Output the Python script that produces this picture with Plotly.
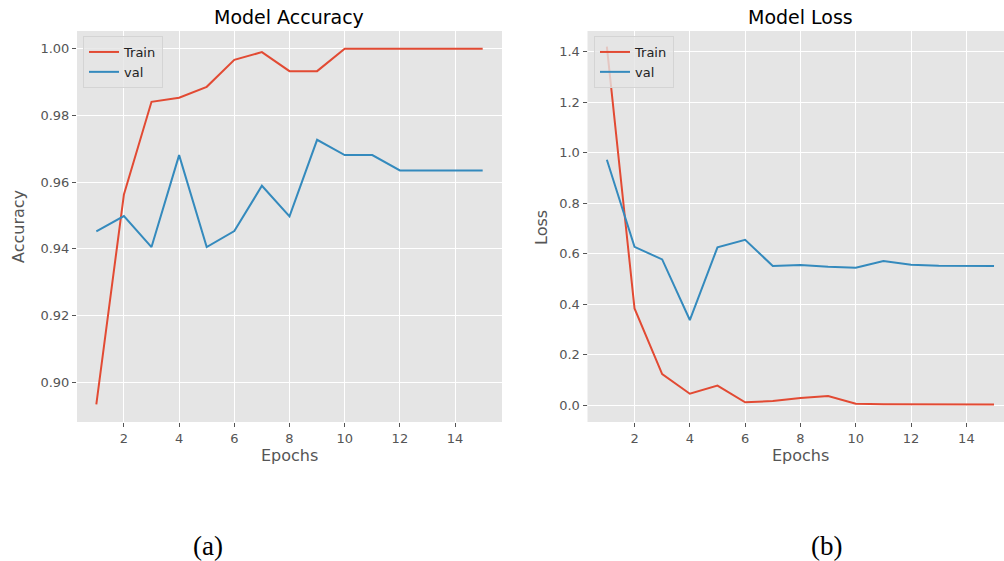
import plotly.graph_objects as go

epochs = list(range(1, 16))
acc_train = [0.8933, 0.9563, 0.9841, 0.9853, 0.9886, 0.9967, 0.9990, 0.9933, 0.9933,
             1.0, 1.0, 1.0, 1.0, 1.0, 1.0]
acc_val = [0.9452, 0.9498, 0.9405, 0.9681, 0.9405, 0.9453, 0.9589, 0.9497, 0.9727,
           0.9681, 0.9681, 0.9635, 0.9635, 0.9635, 0.9635]
loss_train = [1.42, 0.383, 0.123, 0.045, 0.077, 0.011, 0.016, 0.028, 0.036,
              0.005, 0.003, 0.002, 0.002, 0.002, 0.002]
loss_val = [0.972, 0.627, 0.577, 0.337, 0.625, 0.655, 0.551, 0.555, 0.548,
            0.544, 0.571, 0.556, 0.552, 0.551, 0.551]
x_ticks = [2, 4, 6, 8, 10, 12, 14]
acc_ticks = [0.90, 0.92, 0.94, 0.96, 0.98, 1.00]
loss_ticks = [0.0, 0.2, 0.4, 0.6, 0.8, 1.0, 1.2, 1.4]

W, H = 1004, 561
RED = "#E24A33"
BLUE = "#348ABD"
BG = "#E5E5E5"
TICKC = "#555555"

def px(x):
    return x / W

def py(y):
    return 1 - y / H

fig = go.Figure()
fig.add_trace(go.Scatter(x=epochs, y=acc_train, mode="lines", name="Train",
                         line=dict(color=RED, width=2), xaxis="x", yaxis="y", legend="legend"))
fig.add_trace(go.Scatter(x=epochs, y=acc_val, mode="lines", name="val",
                         line=dict(color=BLUE, width=2), xaxis="x", yaxis="y", legend="legend"))
fig.add_trace(go.Scatter(x=epochs, y=loss_train, mode="lines", name="Train",
                         line=dict(color=RED, width=2), xaxis="x2", yaxis="y2", legend="legend2"))
fig.add_trace(go.Scatter(x=epochs, y=loss_val, mode="lines", name="val",
                         line=dict(color=BLUE, width=2), xaxis="x2", yaxis="y2", legend="legend2"))

axis_common = dict(showgrid=True, gridcolor="white", gridwidth=1.2, zeroline=False,
                   showline=False, ticks="outside", ticklen=4, tickwidth=1, tickcolor=TICKC,
                   tickfont=dict(family="DejaVu Sans", size=13, color=TICKC))

ytop, ybot = 31, 422
legend_common = dict(xanchor="left", yanchor="top",
                     bgcolor="rgba(229,229,229,0.8)", bordercolor="#D4D4D4", borderwidth=1,
                     font=dict(family="DejaVu Sans", size=13, color="#222222"),
                     tracegroupgap=0, itemwidth=30)
fig.update_layout(
    width=W, height=H,
    margin=dict(l=0, r=0, t=0, b=0),
    paper_bgcolor="white",
    plot_bgcolor=BG,
    font=dict(family="DejaVu Sans"),
    xaxis=dict(domain=[px(77), px(502)], range=[0.3, 15.7], tickvals=x_ticks,
               anchor="y", **axis_common),
    yaxis=dict(domain=[py(ybot), py(ytop)], range=[0.88800, 1.00535], tickvals=acc_ticks,
               tickformat=".2f", anchor="x", **axis_common),
    xaxis2=dict(domain=[px(587.5), 1.0], range=[0.3, 15.36], tickvals=x_ticks,
                anchor="y2", **axis_common),
    yaxis2=dict(domain=[py(ybot), py(ytop)], range=[-0.067, 1.482], tickvals=loss_ticks,
                tickformat=".1f", anchor="x2", **axis_common),
    legend=dict(x=px(83), y=py(36), **legend_common),
    legend2=dict(x=px(594), y=py(36), **legend_common),
    showlegend=True,
)

annos = [
    dict(text="Model Accuracy", x=px(289), y=py(17), size=19, color="black"),
    dict(text="Model Loss", x=px(800), y=py(17), size=19, color="black"),
    dict(text="Epochs", x=px(289), y=py(455), size=16, color=TICKC),
    dict(text="Epochs", x=px(800), y=py(455), size=16, color=TICKC),
]
for a in annos:
    fig.add_annotation(text=a["text"], x=a["x"], y=a["y"], xref="paper", yref="paper",
                       showarrow=False, xanchor="center", yanchor="middle",
                       font=dict(family="DejaVu Sans", size=a["size"], color=a["color"]))
fig.add_annotation(text="Accuracy", x=px(18), y=py(227), xref="paper", yref="paper",
                   showarrow=False, textangle=-90, xanchor="center", yanchor="middle",
                   font=dict(family="DejaVu Sans", size=16, color=TICKC))
fig.add_annotation(text="Loss", x=px(541), y=py(228), xref="paper", yref="paper",
                   showarrow=False, textangle=-90, xanchor="center", yanchor="middle",
                   font=dict(family="DejaVu Sans", size=16, color=TICKC))
fig.add_annotation(text="(a)", x=px(208), y=py(546), xref="paper", yref="paper",
                   showarrow=False, xanchor="center", yanchor="middle",
                   font=dict(family="Liberation Serif", size=27, color="black"))
fig.add_annotation(text="(b)", x=px(826), y=py(546), xref="paper", yref="paper",
                   showarrow=False, xanchor="center", yanchor="middle",
                   font=dict(family="Liberation Serif", size=27, color="black"))

fig.write_html("out.html", config={"displayModeBar": False},
               post_script="document.body.style.margin='0';document.body.style.overflow='hidden';")
